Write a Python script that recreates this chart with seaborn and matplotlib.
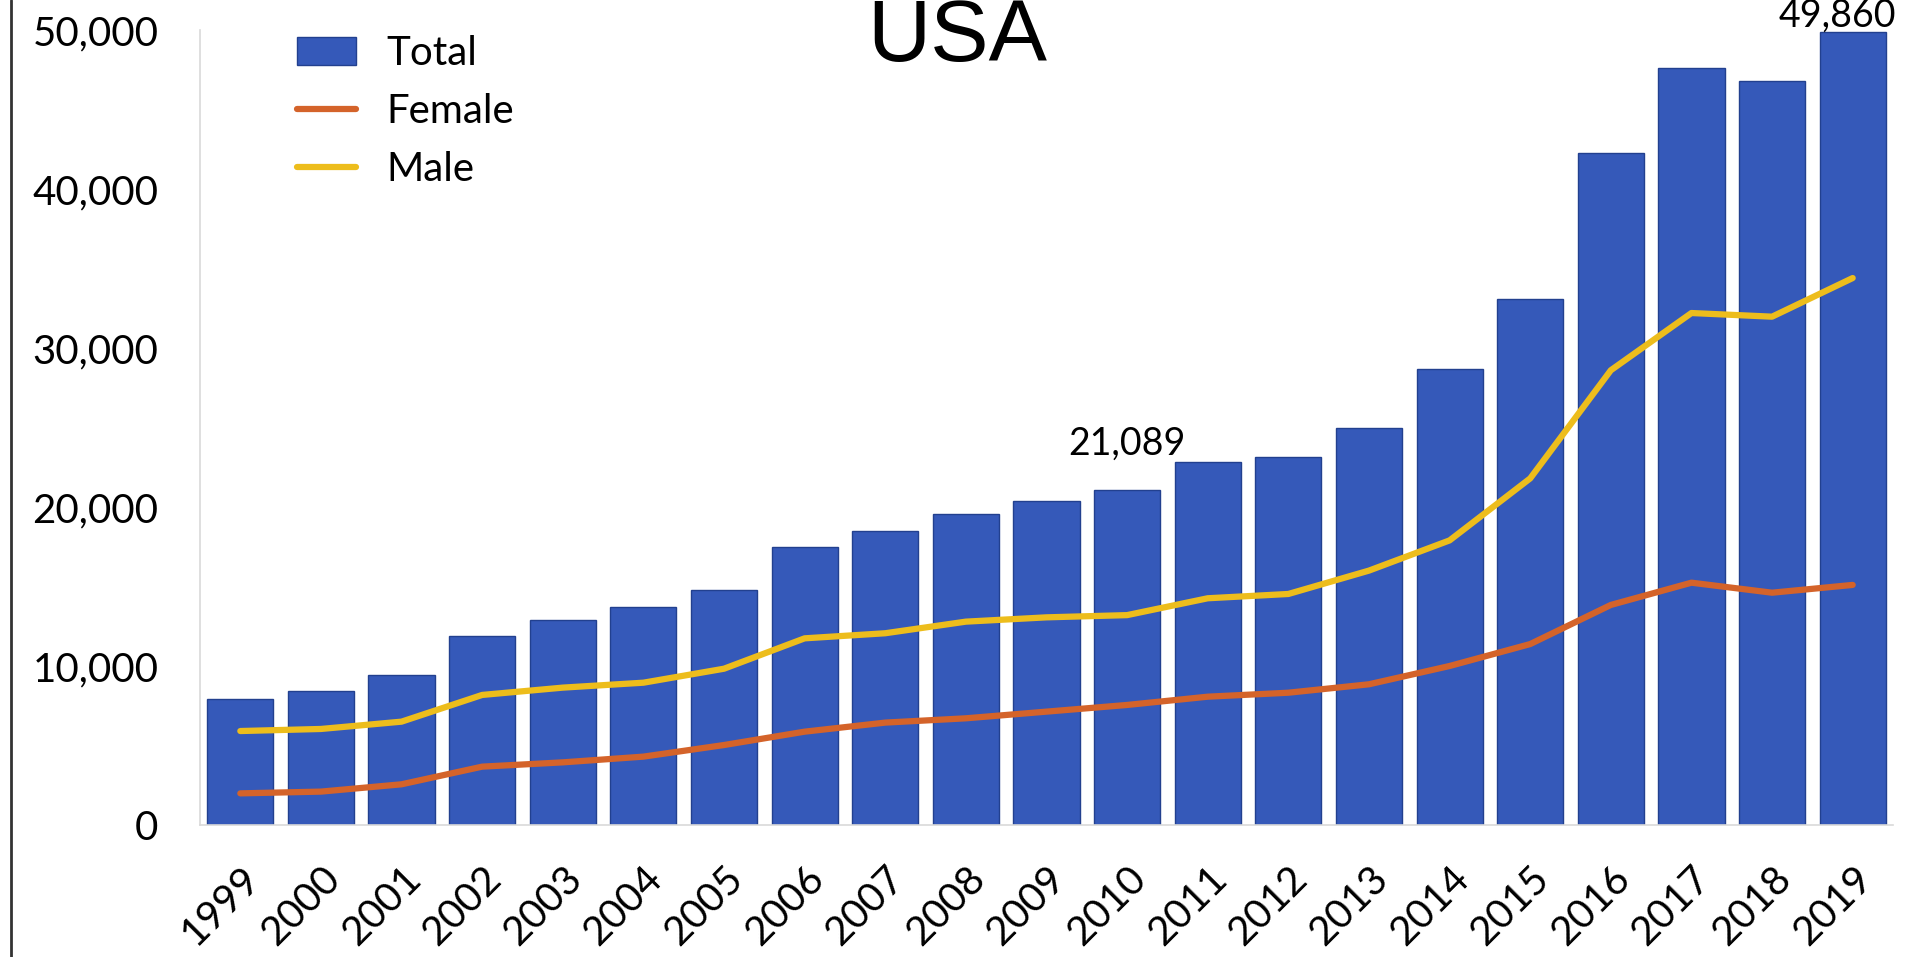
import matplotlib
matplotlib.use("Agg")
import matplotlib.pyplot as plt
import seaborn as sns
import pandas as pd
from matplotlib.patches import Patch
from matplotlib.lines import Line2D
from matplotlib.ticker import FuncFormatter

# ---- data ----
years = ["1999", "2000", "2001", "2002", "2003", "2004", "2005", "2006", "2007",
         "2008", "2009", "2010", "2011", "2012", "2013", "2014", "2015", "2016",
         "2017", "2018", "2019"]
total = [7950, 8400, 9450, 11900, 12900, 13700, 14800, 17500, 18500, 19550,
         20400, 21089, 22800, 23150, 25000, 28650, 33100, 42250, 47600, 46800, 49860]
female = [1990, 2100, 2560, 3670, 3940, 4300, 5030, 5870, 6440, 6710, 7130,
          7550, 8070, 8320, 8850, 10000, 11380, 13840, 15240, 14610, 15100]
male = [5910, 6040, 6500, 8180, 8640, 8950, 9830, 11740, 12060, 12790, 13060,
        13200, 14260, 14530, 16000, 17900, 21800, 28600, 32200, 31970, 34400]
labelled_years = ["2010", "2019"]
series_names = ["Total", "Female", "Male"]
title_text = "USA"

BAR = "#3559B9"
BAR_EDGE = "#22408F"
FEM = "#D4632A"
MALE = "#EDBD1C"
TXT = "#000000"

sns.set_theme(style="white")
plt.rcParams["font.family"] = ["Lato", "DejaVu Sans"]

W, H = 1913, 957
fig = plt.figure(figsize=(W / 100, H / 100), dpi=100)
fig.patch.set_facecolor("white")
ax = fig.add_axes([200 / W, 1 - 825 / H, (1893 - 200) / W, (825 - 30) / H])

df = pd.DataFrame({"year": years, "total": total, "female": female, "male": male})

sns.barplot(data=df, x="year", y="total", color=BAR, saturation=1,
            edgecolor=BAR_EDGE, linewidth=1, width=0.82, ax=ax, zorder=1)
sns.lineplot(data=df, x="year", y="female", color=FEM, lw=4.5, sort=False,
             ax=ax, zorder=3)
sns.lineplot(data=df, x="year", y="male", color=MALE, lw=4.5, sort=False,
             ax=ax, zorder=3)

ax.set_xlim(-0.5, len(years) - 0.5)
ax.set_ylim(0, 50000)
ax.set_yticks(range(0, 50001, 10000))
ax.yaxis.set_major_formatter(FuncFormatter(lambda v, p: f"{v:,.0f}"))
ax.set_xlabel("")
ax.set_ylabel("")

ax.tick_params(axis="y", length=0, pad=30, labelsize=29, labelcolor=TXT)
ax.tick_params(axis="x", length=0, pad=25, labelsize=29, labelcolor=TXT)
for lab in ax.get_xticklabels():
    lab.set_rotation(45)
    lab.set_ha("right")
    lab.set_va("top")
    lab.set_rotation_mode("anchor")

for s in ["top", "right"]:
    ax.spines[s].set_visible(False)
for s in ["left", "bottom"]:
    ax.spines[s].set_color("#D9D9D9")
    ax.spines[s].set_linewidth(1.2)
ax.grid(False)

# value labels
for yr in labelled_years:
    i = years.index(yr)
    dx = -11 if i == len(years) - 1 else 0
    dy = 4 if i == len(years) - 1 else 25
    ax.annotate(f"{total[i]:,}", xy=(i, total[i]), xytext=(dx, dy),
                textcoords="offset points", ha="center", va="baseline",
                fontsize=27, color=TXT, annotation_clip=False)

# legend
handles = [Patch(facecolor=BAR, edgecolor=BAR_EDGE, linewidth=1),
           Line2D([], [], color=FEM, lw=4.5),
           Line2D([], [], color=MALE, lw=4.5)]
fig.legend(handles, series_names, loc="upper left",
           bbox_to_anchor=(297 / W, 1 - 35 / H), frameon=False, borderpad=0,
           borderaxespad=0, handlelength=1.47, handleheight=0.7,
           handletextpad=0.75, labelspacing=0.52, fontsize=29,
           labelcolor=TXT)

# title
fig.text(957 / W, 1 - 61 / H, title_text, ha="center", va="baseline",
         fontsize=63, family=["Liberation Sans", "DejaVu Sans"], color=TXT)

# left image border
fig.add_artist(Line2D([11 / W, 11 / W], [0, 1], transform=fig.transFigure,
                      color="#333333", lw=2))

fig.savefig("out.png", dpi=100)
